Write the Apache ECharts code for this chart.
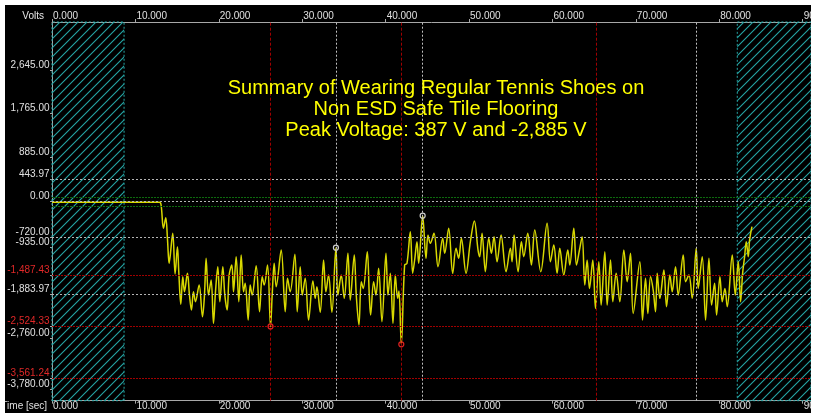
<!DOCTYPE html>
<html>
<head>
<meta charset="utf-8">
<script src="https://cdn.jsdelivr.net/npm/echarts@6/dist/echarts.min.js"></script>
<style>
html,body{margin:0;padding:0;background:#fff;width:814px;height:417px;overflow:hidden;}
#c{position:absolute;left:5px;top:5px;width:806px;height:408px;}
</style>
</head>
<body>
<div id="c"></div>
<script>
// ---- data ----
const times = [0,12.88,13.08,13.36,13.64,13.84,14.04,14.16,14.48,14.76,15.04,15.20,15.44,15.68,15.88,16.24,16.48,16.72,16.96,17.20,17.64,18.04,18.28,18.48,18.76,19.08,19.36,19.60,19.88,20.12,20.48,20.72,21.00,21.24,21.56,21.76,22.08,22.40,22.68,22.96,23.16,23.52,23.76,24.00,24.48,24.88,25.20,25.44,25.84,26.20,26.40,26.64,26.88,27.48,27.96,28.24,28.56,29.12,29.40,29.76,30.00,30.36,30.76,31.28,31.56,31.76,32.16,32.56,32.84,33.16,33.56,34.04,34.28,34.68,35.04,35.48,35.76,36.24,36.48,36.80,
37.08,37.32,37.80,38.04,38.20,38.56,38.84,39.16,39.56,40.04,40.28,40.56,40.88,41.16,41.44,41.60,41.88,42.28,42.56,42.96,43.24,43.48,43.76,43.96,44.44,44.84,45.08,45.36,45.80,46.28,46.84,47.08,47.56,48.04,48.44,48.76,49.08,49.64,50.16,50.64,51.08,51.28,51.56,51.96,52.36,52.68,53.00,53.36,53.84,54.44,54.96,55.16,55.40,55.88,56.28,56.56,57.04,57.48,57.88,58.60,59.36,59.76,60.16,60.56,60.88,
61.36,61.84,62.08,62.56,62.88,63.24,63.56,63.88,64.16,64.44,64.84,65.16,65.56,65.84,66.28,66.56,66.96,67.24,67.64,68.08,68.56,68.96,69.36,69.68,70.48,70.80,71.16,71.44,71.76,72.08,72.36,72.56,72.88,73.36,73.68,74.08,74.36,74.76,75.08,75.68,75.96,76.36,76.76,77.24,77.48,77.96,78.36,78.76,79.08,79.44,79.68,80.08,80.36,80.68,80.96,81.56,81.92,82.28,82.56,82.80,83.04,83.24,83.48,83.64,83.92];
const volts = [-23,-23,-77,-547,-332,-749,-1253,-1118,-648,-1468,-917,-1421,-2079,-1521,-1824,-1454,-1891,-2193,-1824,-2025,-1689,-2328,-1891,-1152,-1891,-1589,-2462,-1824,-1320,-2025,-1320,-1891,-2193,-1488,-1286,-1824,-1118,-2025,-1085,-1824,-1656,-2395,-1689,-1891,-1300,-2227,-1521,-1689,-1286,-2524,-1891,-1253,-1723,-984,-2227,-1555,-1824,-1071,-2227,-1320,-1891,-1555,-2395,-1609,-1958,-1723,-2240,-1185,-1824,-1488,-2240,-937,-1891,-1488,-1958,-1051,-1992,-1085,-1891,-2496,
-1622,-1757,-1017,-1891,-2294,-1622,-1891,-1353,-2429,-1051,-1891,-1454,-2462,-1488,-1958,-1810,-2885,-1286,-1253,-614,-1454,-1185,-816,-1253,-292,-1152,-681,-849,-648,-1320,-749,-1051,-547,-1454,-950,-1152,-749,-1454,-816,-399,-984,-1118,-648,-1421,-749,-1051,-715,-1219,-681,-1421,-950,-1219,-681,-1421,-816,-1118,-648,-1286,-581,-1421,-446,-1219,-883,-1454,-950,
-1488,-984,-1286,-547,-1286,-984,-715,-1689,-1185,-1757,-1185,-2160,-1219,-2093,-1017,-2093,-1185,-2025,-1454,-2025,-984,-1622,-1051,-2261,-1219,-2395,-1555,-2261,-1521,-1790,-2227,-1454,-1958,-1387,-2126,-1488,-1824,-1320,-1891,-1085,-1622,-1488,-1958,-950,-1757,-1118,-2395,-1152,-2093,-1656,-2294,-1521,-2025,-1757,-2126,-1085,-1891,-1219,-2025,-1454,-1118,-816,-1118,-782,-513];

const xTickLabels = [0,10,20,30,40,50,60,70,80,90];
const yTickLabels = [2645,1765,885,443.97,0,-720,-935,-1487.43,-1883.97,-2524.33,-2760,-3561.24,-3780];
const redLevels = [-1487.43,-2524.33,-3561.24];
const whiteLevels = [443.97,0,-720,-1883.97];
const greenLevels = [75,-100];
const redCursors = [26.2,41.88,65.2];
const whiteCursors = [34.04,44.44,77.2];
const redMarks = [[26.2,-2524],[41.88,-2885]];
const whiteMarks = [[34.04,-937],[44.44,-292]];
const hatchRanges = [[0,8.64],[82.16,91]];
const titleLines = ['Summary of Wearing Regular Tennis Shoes on','Non ESD Safe Tile Flooring','Peak Voltage: 387 V and -2,885 V'];

// ---- styles ----
const FONT = "'Liberation Sans',Arial,sans-serif";
const pat = document.createElement('canvas');
pat.width = 9; pat.height = 9;
const g = pat.getContext('2d');
g.strokeStyle = '#25a5a5'; g.lineWidth = 1.1;
g.beginPath();
g.moveTo(0,9); g.lineTo(9,0);
g.moveTo(-1,1); g.lineTo(1,-1);
g.moveTo(8,10); g.lineTo(10,8);
g.stroke();

function fmtY(v){
  const n = Number(v);
  const s = Math.abs(n).toFixed(2).split('.');
  s[0] = s[0].replace(/\B(?=(\d{3})+(?!\d))/g, ',');
  return (n < 0 ? '-' : '') + s.join('.');
}

const xAxisBase = (pos) => ({
  type:'value', position:pos, min:0, max:91,
  axisLine:{show:true, onZero:false, lineStyle:{color:'#a8a8a8', width:1}},
  axisTick:{show:true, inside:false, length:3, customValues:xTickLabels, lineStyle:{color:'#a8a8a8'}},
  axisLabel:{show:true, customValues:xTickLabels, formatter:(v)=>Number(v).toFixed(3), align:'left', margin:1,
             color:'#e0e0e0', fontSize:10, fontFamily:FONT, padding:[0,0,0,1]},
  splitLine:{show:false}
});

const markLineData = [];
whiteLevels.forEach(v=>markLineData.push({yAxis:v, lineStyle:{color:'#b4b4b4', type:[2,2], width:1}}));
greenLevels.forEach(v=>markLineData.push({yAxis:v, lineStyle:{color:'#0d6a0d', type:[2,1], width:1}}));
redLevels.forEach(v=>markLineData.push({yAxis:v, lineStyle:{color:'#a00000', type:[2,1], width:1}}));
redCursors.forEach(v=>markLineData.push({xAxis:v, lineStyle:{color:'#a00000', type:[3,2], width:1}}));
whiteCursors.forEach(v=>markLineData.push({xAxis:v, lineStyle:{color:'#c0c0c0', type:[2,2], width:1}}));

const markPointData = [];
redMarks.forEach(p=>markPointData.push({coord:p, itemStyle:{color:'rgba(0,0,0,0)', borderColor:'#e02020', borderWidth:1.2}}));
whiteMarks.forEach(p=>markPointData.push({coord:p, itemStyle:{color:'rgba(0,0,0,0)', borderColor:'#d0d0d0', borderWidth:1.2}}));

const chart = echarts.init(document.getElementById('c'));
chart.setOption({
  animation:false,
  backgroundColor:'#000',
  title:{
    text:titleLines.join('\n'), left:431, top:73, textAlign:'center', padding:0,
    textStyle:{color:'#ffff00', fontSize:20, fontWeight:'normal', fontFamily:"'Liberation Sans',Arial,sans-serif", lineHeight:21}
  },
  grid:{left:47, right:0, top:17, bottom:12.3, containLabel:false, outerBoundsMode:'none'},
  xAxis:[
    Object.assign(xAxisBase('bottom'), {name:'Time [sec]', nameLocation:'start', nameGap:3,
      nameTextStyle:{color:'#e0e0e0', fontSize:10, fontFamily:FONT, verticalAlign:'top', align:'right', padding:[1,0,0,0]}}),
    Object.assign(xAxisBase('top'), {name:'Volts', nameLocation:'start', nameGap:8,
      nameTextStyle:{color:'#e8e8e8', fontSize:10, fontFamily:FONT, verticalAlign:'bottom', align:'right', padding:[0,0,1,0]}})
  ],
  yAxis:{
    type:'value', min:-4020, max:3610,
    axisLine:{show:true, onZero:false, lineStyle:{color:'#a8a8a8'}},
    axisTick:{show:true, length:2, customValues:yTickLabels, lineStyle:{color:'#a8a8a8'}},
    axisLabel:{show:true, customValues:yTickLabels, formatter:fmtY, margin:2.5, fontSize:10, fontFamily:FONT,
      verticalAlign:'bottom', lineHeight:10,
      color:(v)=> redLevels.indexOf(Number(v)) >= 0 ? '#e02828' : '#e0e0e0'},
    splitLine:{show:false}
  },
  series:[{
    type:'line', xAxisIndex:0,
    data:times.map((t,i)=>[t, volts[i]]),
    showSymbol:false, smooth:0.35,
    lineStyle:{color:'#d8d800', width:1.5},
    z:3,
    markArea:{
      silent:true,
      itemStyle:{color:{image:pat, repeat:'repeat'}, borderColor:'#25a5a5', borderWidth:1, borderType:[2,2]},
      data:hatchRanges.map(r=>[{xAxis:r[0]},{xAxis:r[1]}])
    },
    markLine:{silent:true, symbol:['none','none'], label:{show:false}, data:markLineData},
    markPoint:{silent:true, symbol:'circle', symbolSize:5, label:{show:false}, data:markPointData}
  }]
});
</script>
</body>
</html>
